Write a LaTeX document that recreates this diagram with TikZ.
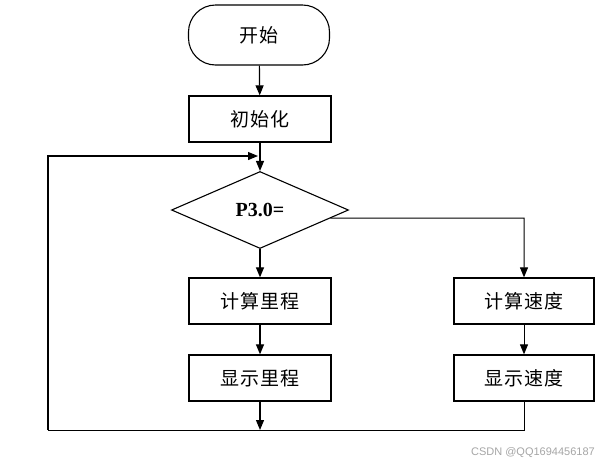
\documentclass[tikz,border=0pt]{standalone}
\usepackage{fontspec}
\newfontfamily\cjk[LetterSpace=4]{Noto Sans CJK SC}
\newfontfamily\serifbold{Liberation Serif}
\newfontfamily\wmfont{Liberation Sans}
\usetikzlibrary{shapes.geometric,arrows.meta,calc}
\begin{document}
\begin{tikzpicture}[x=1pt,y=-1pt,
  every node/.style={inner sep=0pt},
  box/.style={draw,line width=1.3pt,minimum width=142pt,minimum height=46pt,font=\cjk\fontsize{19}{21}\selectfont},
  term/.style={draw,line width=1.1pt,rounded corners=27pt,minimum width=141pt,minimum height=60pt,font=\cjk\fontsize{19}{21}\selectfont},
  decide/.style={draw,line width=1.1pt,diamond,aspect=2.3,minimum width=177pt,minimum height=77pt,font=\serifbold\bfseries\fontsize{20}{22}\selectfont},
  conn/.style={line width=1.2pt},
  arr/.style={conn,-{Triangle[length=10pt,width=8pt]}}]
\useasboundingbox (0,0) rectangle (608,464);
\fill[white] (0,0) rectangle (608,464);

\node[term] (start) at (259,35) {开始};
\node[box] (init) at (260,119) {初始化};
\node[decide] (dec) at (260,210) {P3.0=};
\node[box] (calcd) at (260,301) {计算里程};
\node[box] (showd) at (260,378) {显示里程};
\node[box,minimum width=140pt] (calcv) at (524,301) {计算速度};
\node[box,minimum width=140pt] (showv) at (524,378) {显示速度};

\coordinate (loopjoin) at (260,156);
\coordinate (bottomjoin) at (260,430);
\coordinate (leftbot) at (48,430);
\coordinate (lefttop) at (48,156);
\coordinate (rightbot) at (524,430);
\coordinate (branch) at ($(dec.east)!0.21!(dec.south)$);
\coordinate (branchturn) at (524,218);

\draw[arr] (start) -- (init);
\draw[arr] (init) -- (dec.north);
\draw[arr] (dec.south) -- (calcd);
\draw[arr] (calcd) -- (showd);
\draw[arr] (showd) -- (bottomjoin);
\draw[arr,line width=1pt] (branch) -- (branchturn) -- (calcv.north);
\draw[arr,line width=1pt] (calcv) -- (showv);
\draw[conn,line width=1pt] (showv.south) -- (rightbot) -- (leftbot);
\draw[arr] (leftbot) -- (lefttop) -- ([xshift=-2pt]loopjoin);

\node[text=black!35,font=\wmfont\fontsize{11}{13}\selectfont,anchor=east] (wm) at (595,453) {CSDN @QQ1694456187};
\end{tikzpicture}
\end{document}
